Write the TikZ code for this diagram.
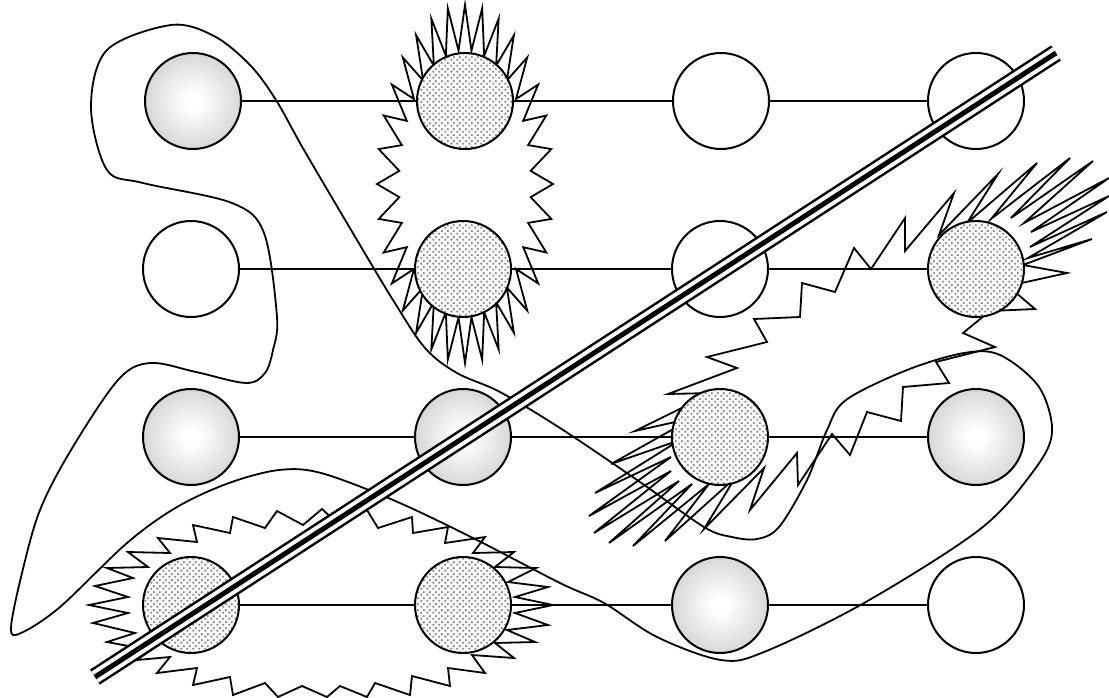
\documentclass[tikz,border=0pt]{standalone}
\usetikzlibrary{patterns}

\pgfdeclareradialshading{ballshade}{\pgfpoint{0bp}{0bp}}{%
  color(0bp)=(white); color(4bp)=(white); color(50bp)=(black!34); color(75bp)=(black!34)}

\pgfdeclarepatternformonly{specks}{\pgfpointorigin}{\pgfpoint{6pt}{6pt}}{\pgfpoint{6pt}{6pt}}{%
  \pgfsetlinewidth{0.45pt}
  \pgfpathcircle{\pgfpoint{1.5pt}{1.5pt}}{0.9pt}
  \pgfpathcircle{\pgfpoint{4.5pt}{4.5pt}}{0.9pt}
  \pgfusepath{stroke}}

\begin{document}
\begin{tikzpicture}[
  x=1pt, y=-1pt,
  ball/.style={circle, draw=black, line width=2pt, minimum size=96pt, inner sep=0pt, outer sep=0pt},
  glossy/.style={ball, shading=ballshade},
  speckled/.style={ball, preaction={fill=white}, pattern=specks, pattern color=black!60},
  hollow/.style={ball, fill=white},
  link/.style={line width=1.8pt},
  spiky/.style={line width=1.8pt, line join=miter},
  blob/.style={line width=1.8pt},
  rail/.style={line width=5pt, preaction={draw, line width=18pt}, preaction={draw=white, line width=13pt}}
]
\useasboundingbox (0,0) rectangle (1109,697);

% smooth outline through both lobes
\draw[blob] plot[smooth cycle, tension=0.55] coordinates {
  (171,25) (214,36) (250,65) (276,100) (304,150) (357,240) (393,300) (425,348)
  (457,373) (500,392) (560,428) (640,482) (704,527) (732,537) (757,539) (779,527)
  (807,480) (827,430) (846,400) (907,370) (964,353) (1000,355) (1039,387) (1052,433)
  (1032,473) (979,530) (864,603) (764,652) (721,660) (657,637) (604,603) (560,583)
  (471,537) (393,500) (321,473) (279,470) (229,483) (177,507) (127,543) (60,607)
  (21,633) (11,628) (22,573) (40,510) (71,450) (118,380) (150,363) (196,372)
  (246,383) (265,373) (273,350) (277,317) (264,233) (232,203) (143,183) (107,170)
  (91,107) (107,50)};

% star round the upper pair
\draw[spiky] plot[domain=0:63, samples=64, variable=\k]
  ({465+ifthenelse(mod(round(\k),2)<0.5,88,66)*cos(-90+\k*5.625)},
   {184+ifthenelse(mod(round(\k),2)<0.5,179,134)*sin(-90+\k*5.625)}) -- cycle;

% zigzag between (976,269) and (720,437)
\draw[spiky] (707,357) -- (767,342) -- (754,319) -- (800,317) -- (802,283) -- (835,292)
  -- (854,248) -- (871,269) -- (905,218) -- (905,251) -- (954,193) -- (939,235)
  -- (998,174) -- (967,223) -- (1037,163) -- (991,219) -- (1070,158) -- (1011,218)
  -- (1093,161) -- (1024,223) -- (1109,178) -- (1031,232) -- (1109,196) -- (1030,247)
  -- (1107,212) -- (1028,258) -- (1092,239) -- (1023,265) -- (1067,273) -- (1008,286)
  -- (1035,309) -- (990,311) -- (963,333) -- (995,347) -- (936,362) -- (949,383)
  -- (903,387) -- (901,421) -- (867,412) -- (850,455) -- (832,434) -- (798,485)
  -- (797,453) -- (750,510) -- (764,468) -- (704,529) -- (735,478) -- (665,541)
  -- (709,484) -- (633,546) -- (692,484) -- (609,543) -- (679,481) -- (594,533)
  -- (671,471) -- (589,516) -- (671,457) -- (595,493) -- (680,440) -- (611,464)
  -- (693,418) -- (635,431) -- (712,393) -- (668,394) -- (737,368) -- cycle;

% zigzag round the lower pair
\draw[spiky] (107,568) -- (148,567) -- (128,552) -- (170,553) -- (158,538) -- (197,542)
  -- (193,525) -- (230,533) -- (233,517) -- (265,528) -- (277,511) -- (303,525)
  -- (322,509) -- (336,522) -- (367,510) -- (378,528) -- (412,517) -- (413,533)
  -- (448,527) -- (445,543) -- (485,537) -- (473,553) -- (514,552) -- (495,567)
  -- (536,568) -- (508,582) -- (548,587) -- (515,597) -- (553,605) -- (515,613)
  -- (548,625) -- (507,630) -- (535,642) -- (495,643) -- (514,658) -- (472,655)
  -- (485,673) -- (448,668) -- (450,686) -- (412,676) -- (410,695) -- (375,683)
  -- (367,697) -- (340,686) -- (327,697) -- (302,686) -- (278,697) -- (265,683)
  -- (233,695) -- (230,677) -- (193,685) -- (197,668) -- (157,673) -- (170,657)
  -- (137,660) -- (150,650) -- (107,642) -- (135,633) -- (93,623) -- (128,613)
  -- (89,605) -- (128,597) -- (95,586) -- (133,578) -- cycle;

% row 1
\node[glossy]   (p11) at (193,101) {};
\node[speckled] (p12) at (465,101) {};
\node[hollow]   (p13) at (721,101) {};
\node[hollow]   (p14) at (976,101) {};

% row 2
\node[hollow]   (p21) at (191,269) {};
\node[speckled] (p22) at (463,269) {};
\node[hollow]   (p23) at (720,269) {};
\node[speckled] (p24) at (976,269) {};

% row 3
\node[glossy]   (p31) at (191,437) {};
\node[glossy]   (p32) at (463,437) {};
\node[speckled] (p33) at (720,437) {};
\node[glossy]   (p34) at (976,437) {};

% row 4
\node[speckled] (p41) at (191,605) {};
\node[speckled] (p42) at (463,605) {};
\node[glossy]   (p43) at (720,605) {};
\node[hollow]   (p44) at (976,605) {};

\foreach \r in {1,...,4}
  \draw[link] (p\r1) -- (p\r2) -- (p\r3) -- (p\r4);

% the cut across everything
\coordinate (cutA) at (95,677);
\coordinate (cutB) at (1056,53);
\draw[rail] (cutA) -- (cutB);

\end{tikzpicture}
\end{document}
